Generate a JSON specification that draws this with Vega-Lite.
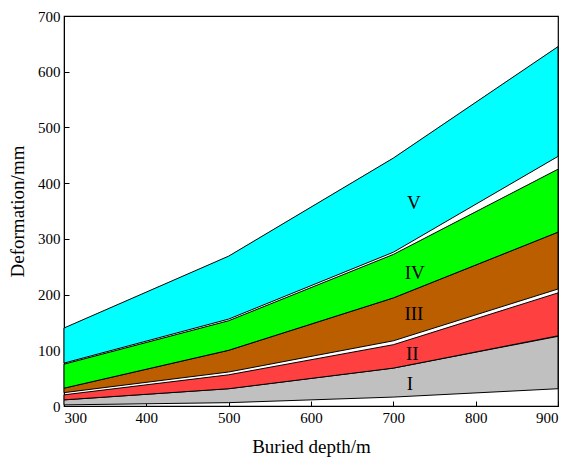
{
  "$schema": "https://vega.github.io/schema/vega-lite/v6.json",
  "autosize": "none",
  "width": 494,
  "height": 390,
  "padding": {"left": 64, "top": 16, "right": 13, "bottom": 60},
  "background": "white",
  "config": {
    "view": {"stroke": "black", "strokeWidth": 1.2},
    "font": "Liberation Serif",
    "axis": {
      "grid": false,
      "domainColor": "black",
      "tickColor": "black",
      "labelColor": "black",
      "titleColor": "black",
      "tickSize": -5,
      "labelPadding": 9
    }
  },
  "datasets": {
    "bands": [
      {"depth": 300, "band": "I", "low": 2, "high": 11},
      {"depth": 500, "band": "I", "low": 6, "high": 31},
      {"depth": 700, "band": "I", "low": 16, "high": 68},
      {"depth": 900, "band": "I", "low": 31, "high": 125},
      {"depth": 300, "band": "II", "low": 11, "high": 20},
      {"depth": 500, "band": "II", "low": 31, "high": 56},
      {"depth": 700, "band": "II", "low": 68, "high": 110},
      {"depth": 900, "band": "II", "low": 126, "high": 203},
      {"depth": 300, "band": "III", "low": 24, "high": 32},
      {"depth": 500, "band": "III", "low": 61, "high": 100},
      {"depth": 700, "band": "III", "low": 117, "high": 194},
      {"depth": 900, "band": "III", "low": 210, "high": 312},
      {"depth": 300, "band": "IV", "low": 32, "high": 75},
      {"depth": 500, "band": "IV", "low": 100, "high": 153},
      {"depth": 700, "band": "IV", "low": 194, "high": 272},
      {"depth": 900, "band": "IV", "low": 312, "high": 425},
      {"depth": 300, "band": "V", "low": 77, "high": 140},
      {"depth": 500, "band": "V", "low": 156, "high": 269},
      {"depth": 700, "band": "V", "low": 276, "high": 445},
      {"depth": 900, "band": "V", "low": 448, "high": 645}
    ],
    "labels": [
      {"depth": 720, "value": 39, "label": "I"},
      {"depth": 723, "value": 93, "label": "II"},
      {"depth": 725, "value": 165, "label": "III"},
      {"depth": 726, "value": 239, "label": "IV"},
      {"depth": 725, "value": 364, "label": "V"}
    ]
  },
  "layer": [
    {
      "data": {"name": "bands"},
      "mark": {"type": "area", "stroke": "black", "strokeWidth": 1, "opacity": 1},
      "encoding": {
        "x": {
          "field": "depth", "type": "quantitative",
          "scale": {"domain": [300, 900], "nice": false},
          "axis": {"values": [300, 400, 500, 600, 700, 800, 900], "title": "Buried depth/m", "titlePadding": 12,
                   "labelFont": "Liberation Serif", "titleFont": "Liberation Serif", "labelFontSize": 15, "titleFontSize": 19, "titleFontWeight": "normal"}
        },
        "y": {
          "field": "high", "type": "quantitative",
          "scale": {"domain": [0, 700], "nice": false},
          "axis": {"values": [0, 100, 200, 300, 400, 500, 600, 700], "title": "Deformation/mm", "titlePadding": 10,
                   "labelFont": "Liberation Serif", "titleFont": "Liberation Serif", "labelFontSize": 15, "titleFontSize": 19, "titleFontWeight": "normal"}
        },
        "y2": {"field": "low"},
        "color": {
          "field": "band", "type": "nominal",
          "scale": {"domain": ["I", "II", "III", "IV", "V"], "range": ["#c0c0c0", "#ff4040", "#bb5e00", "#00ff00", "#00ffff"]},
          "legend": null
        },
        "detail": {"field": "band"}
      }
    },
    {
      "data": {"name": "labels"},
      "mark": {"type": "text", "font": "Liberation Serif", "fontSize": 19, "color": "black", "align": "center", "baseline": "middle"},
      "encoding": {
        "x": {"field": "depth", "type": "quantitative"},
        "y": {"field": "value", "type": "quantitative"},
        "text": {"field": "label"}
      }
    }
  ]
}
